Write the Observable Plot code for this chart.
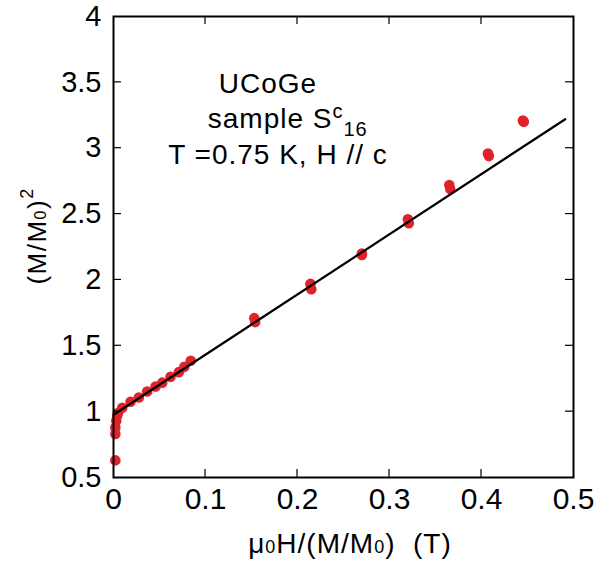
<!DOCTYPE html>
<html>
<head>
<meta charset="utf-8">
<script src="https://cdn.jsdelivr.net/npm/d3@7"></script>
<script src="https://cdn.jsdelivr.net/npm/@observablehq/plot@0.6"></script>
<style>
  html, body { margin: 0; padding: 0; background: #fff; }
  #chart svg { display: block; font-family: "Liberation Sans", Arial, sans-serif; }
</style>
</head>
<body>
<div id="chart"></div>
<script>
// Data
const xVals = [0.002, 0.002, 0.002, 0.003, 0.004, 0.005, 0.0095, 0.0185, 0.0275, 0.0366, 0.0457, 0.053, 0.062, 0.071, 0.077, 0.084,
               0.153, 0.154, 0.214, 0.215, 0.270, 0.270, 0.320, 0.321, 0.365, 0.366, 0.407, 0.408, 0.445, 0.446];
const yVals = [0.63, 0.83, 0.88, 0.93, 0.97, 0.99, 1.03, 1.075, 1.107, 1.153, 1.19, 1.22, 1.264, 1.30, 1.34, 1.386,
               1.71, 1.68, 1.97, 1.93, 2.20, 2.19, 2.46, 2.43, 2.72, 2.69, 2.96, 2.94, 3.21, 3.20];
const fitX = [0.001, 0.491];
const fitY = [0.98, 3.22];
const xTicks = [0, 0.1, 0.2, 0.3, 0.4, 0.5];
const yTicks = [0.5, 1, 1.5, 2, 2.5, 3, 3.5, 4];
const annotation = ["UCoGe", "sample S", "T =0.75 K, H // c"];

const points = xVals.map((x, i) => ({x, y: yVals[i]}));
const fit = fitX.map((x, i) => ({x, y: fitY[i]}));

const chart = Plot.plot({
  width: 596,
  height: 565,
  marginLeft: 113,
  marginRight: 23,
  marginTop: 16,
  marginBottom: 88,
  style: {fontFamily: '"Liberation Sans", Arial, sans-serif', background: "#fff"},
  x: {domain: [0, 0.5]},
  y: {domain: [0.5, 4]},
  marks: [
    Plot.dot(points, {x: "x", y: "y", r: 5.3, fill: "#e0222c", stroke: "none"}),
    Plot.line(fit, {x: "x", y: "y", stroke: "#000", strokeWidth: 2.2}),
    Plot.axisX({ticks: xTicks, tickSize: 0, tickPadding: 10, tickFormat: d => String(d), fontSize: 30, label: null, anchor: "bottom"}),
    Plot.axisY({ticks: yTicks, tickSize: 0, tickPadding: 12, tickFormat: d => String(d), fontSize: 29, label: null, anchor: "left"}),
    Plot.frame({stroke: "#000", strokeWidth: 2})
  ]
});

const svg = d3.select(chart);
const X = v => chart.scale("x").apply(v);
const Y = v => chart.scale("y").apply(v);

// inward ticks on all four sides
const g = svg.append("g").attr("stroke", "#000").attr("stroke-width", 1.2);
const tl = 8;
const x0 = X(0), x1 = X(0.5), y0 = Y(0.5), y1 = Y(4);
xTicks.slice(1, -1).forEach(t => {
  g.append("line").attr("x1", X(t)).attr("x2", X(t)).attr("y1", y0).attr("y2", y0 - tl);
  g.append("line").attr("x1", X(t)).attr("x2", X(t)).attr("y1", y1).attr("y2", y1 + tl);
});
yTicks.slice(1, -1).forEach(t => {
  g.append("line").attr("x1", x0).attr("x2", x0 + tl).attr("y1", Y(t)).attr("y2", Y(t));
  g.append("line").attr("x1", x1).attr("x2", x1 - tl).attr("y1", Y(t)).attr("y2", Y(t));
});

// annotation text
const ann = svg.append("g").attr("font-size", 28).attr("letter-spacing", 1).attr("text-anchor", "start").attr("fill", "#000");
ann.append("text").attr("x", X(0.115)).attr("y", Y(3.415)).text(annotation[0]);
const t2 = ann.append("text").attr("x", X(0.103)).attr("y", Y(3.149));
t2.append("tspan").text(annotation[1]);
t2.append("tspan").attr("font-size", 20).attr("dy", -10).text("c");
t2.append("tspan").attr("font-size", 20).attr("dy", 18).text("16");
ann.append("text").attr("x", X(0.060)).attr("y", Y(2.875)).text(annotation[2]);

// x axis label
const xl = svg.append("text").attr("x", 350).attr("y", 553)
  .attr("font-size", 28).attr("letter-spacing", 1).attr("text-anchor", "middle").attr("fill", "#000");
xl.append("tspan").text("\u03bc");
xl.append("tspan").attr("font-size", 18).text("0");
xl.append("tspan").text("H/(M/M");
xl.append("tspan").attr("font-size", 18).text("0");
xl.append("tspan").attr("xml:space", "preserve").text(")  (T)");

// y axis label
const yl = svg.append("text").attr("transform", `translate(46,${Y(2.33)}) rotate(-90)`)
  .attr("font-size", 26).attr("letter-spacing", 1.5).attr("text-anchor", "middle").attr("fill", "#000");
yl.append("tspan").text("(M/M");
yl.append("tspan").attr("font-size", 16).text("0");
yl.append("tspan").text(")");
yl.append("tspan").attr("font-size", 18).attr("dy", -13).text("2");

document.getElementById("chart").appendChild(chart);
</script>
</body>
</html>
